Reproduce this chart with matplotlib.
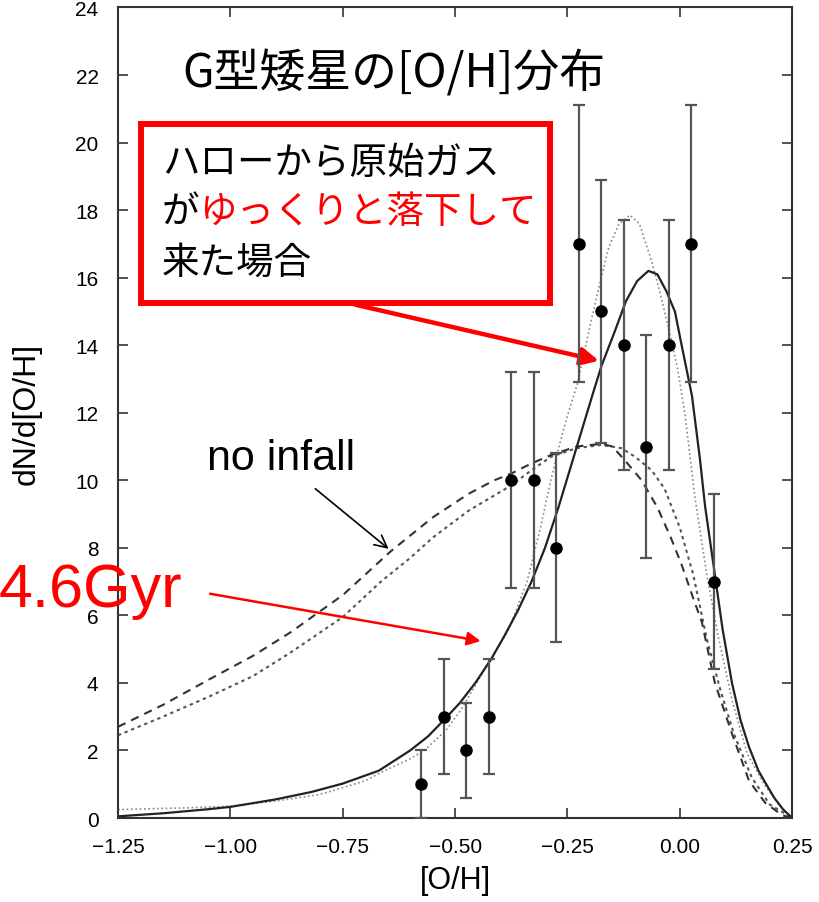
import matplotlib
matplotlib.use('Agg')
import matplotlib.pyplot as plt
import numpy as np
from matplotlib.patches import Rectangle

plt.rcParams['font.family'] = ['Liberation Sans', 'DejaVu Sans']
JP = ['Noto Sans CJK JP', 'DejaVu Sans']

# ---------------------------------------------------------------------------
# Data
# ---------------------------------------------------------------------------
oh_obs = [-0.575, -0.525, -0.475, -0.425, -0.375, -0.325, -0.275,
          -0.225, -0.175, -0.125, -0.075, -0.025, 0.025, 0.075]
n_obs = [1, 3, 2, 3, 10, 10, 8, 17, 15, 14, 11, 14, 17, 7]
n_err = [1.0, 1.7, 1.4, 1.7, 3.2, 3.2, 2.8, 4.1, 3.9, 3.7, 3.3, 3.7, 4.1, 2.6]

# model with slow infall (solid)
solid_x = [-1.25, -1.15, -1.05, -1.00, -0.90, -0.82, -0.75, -0.67, -0.60,
           -0.56, -0.525, -0.49, -0.455, -0.42, -0.39, -0.36, -0.33, -0.30,
           -0.27, -0.245, -0.22, -0.195, -0.174, -0.145, -0.12, -0.095,
           -0.07, -0.05, -0.03, -0.011, 0.004, 0.027, 0.045, 0.056, 0.078,
           0.095, 0.116, 0.135, 0.154, 0.175, 0.19, 0.21, 0.23, 0.25]
solid_y = [0.05, 0.14, 0.26, 0.33, 0.55, 0.77, 1.02, 1.40, 2.00,
           2.42, 2.90, 3.40, 4.00, 4.70, 5.40, 6.15, 7.00, 8.00,
           9.20, 10.3, 11.4, 12.5, 13.4, 14.4, 15.3, 15.9,
           16.2, 16.1, 15.6, 15.0, 14.0, 12.5, 10.6, 9.25, 7.2,
           5.6, 4.0, 2.9, 2.1, 1.4, 1.05, 0.6, 0.25, 0.0]

# fine dotted model
dot_x = [-1.25, -1.10, -1.00, -0.90, -0.80, -0.70, -0.665, -0.60, -0.569,
         -0.52, -0.487, -0.43, -0.38, -0.34, -0.31, -0.287, -0.265, -0.248,
         -0.227, -0.196, -0.175, -0.158, -0.135, -0.111, -0.09, -0.063,
         -0.045, -0.025, -0.005, 0.011, 0.033, 0.06, 0.085, 0.116, 0.15,
         0.19, 0.22, 0.25]
dot_y = [0.25, 0.30, 0.35, 0.50, 0.70, 1.10, 1.35, 1.75, 2.00,
         2.60, 3.20, 4.50, 5.60, 7.00, 8.60, 10.0, 11.2, 12.0,
         12.9, 14.8, 16.0, 16.9, 17.6, 17.85, 17.6, 16.5,
         15.6, 14.5, 13.3, 12.0, 9.55, 7.2, 5.4, 3.5, 1.9,
         0.95, 0.4, 0.0]

# no infall (long dashes)
dash_x = [-1.25, -1.15, -1.045, -0.95, -0.866, -0.75, -0.643, -0.55, -0.47,
          -0.413, -0.375, -0.33, -0.286, -0.23, -0.174, -0.15, -0.123,
          -0.085, -0.05, -0.02, 0.004, 0.03, 0.049, 0.078, 0.116, 0.154,
          0.19, 0.228, 0.25]
dash_y = [2.7, 3.35, 4.12, 4.8, 5.5, 6.6, 7.9, 8.9, 9.6,
          10.0, 10.2, 10.5, 10.75, 11.0, 11.08, 11.0, 10.6,
          10.0, 9.2, 8.3, 7.5, 6.5, 5.8, 4.0, 2.5, 1.1,
          0.45, 0.08, 0.0]

# no infall (short dashes)
sdash_x = [-1.25, -1.15, -1.045, -0.95, -0.866, -0.75, -0.665, -0.60, -0.55,
           -0.47, -0.413, -0.375, -0.33, -0.286, -0.23, -0.174, -0.13, -0.10,
           -0.063, -0.034, 0.0, 0.03, 0.06, 0.09, 0.12, 0.16, 0.20, 0.25]
sdash_y = [2.45, 3.0, 3.61, 4.2, 4.9, 5.95, 7.0, 7.7, 8.3,
           9.1, 9.55, 9.85, 10.3, 10.7, 10.95, 11.05, 10.95, 10.7,
           10.3, 9.75, 8.6, 7.2, 5.3, 3.8, 2.5, 1.2, 0.4, 0.0]

x_ticks = [-1.25, -1.00, -0.75, -0.50, -0.25, 0.00, 0.25]
y_ticks = list(range(0, 25, 2))

# ---------------------------------------------------------------------------
# Figure
# ---------------------------------------------------------------------------
fig = plt.figure(figsize=(8.2, 9.03), dpi=100)
ax = fig.add_axes([0.1439, 0.093, 0.8222, 0.8976])

ax.plot(sdash_x, sdash_y, color='#555555', lw=1.5, ls=(0, (1.6, 1.8)))
ax.plot(dash_x, dash_y, color='#333333', lw=1.5, ls=(0, (4, 3)))
ax.plot(dot_x, dot_y, color='#888888', lw=1.2, ls=(0, (1, 1.6)))
ax.plot(solid_x, solid_y, color='#222222', lw=1.6)

ax.errorbar(oh_obs, n_obs, yerr=n_err, fmt='o', color='black', ms=8,
            ecolor='#555555', elinewidth=1.6, capsize=4.5, capthick=1.6,
            zorder=5)

ax.set_xlim(-1.25, 0.25)
ax.set_ylim(0, 24)
ax.set_xticks(x_ticks)
ax.set_xticklabels(['\u22121.25', '\u22121.00', '\u22120.75', '\u22120.50',
                    '\u22120.25', '0.00', '0.25'])
ax.set_yticks(y_ticks)
ax.tick_params(direction='in', length=7.5, width=1.2, top=True, right=True,
               labelsize=15, pad=14, color='#333333')
for s in ax.spines.values():
    s.set_linewidth(1.5)
    s.set_color('#333333')

ax.set_xlabel('[O/H]', fontsize=22)
ax.set_ylabel('dN/d[O/H]', fontsize=23)
ax.xaxis.set_label_coords(0.5, -0.058)
ax.yaxis.set_label_coords(-0.113, 0.5)

# ---------------------------------------------------------------------------
# Annotations
# ---------------------------------------------------------------------------
ax.text(-1.107, 22.04, 'G型矮星の[O/H]分布', fontsize=33, family=JP,
        ha='left', va='center')

ax.add_patch(Rectangle((-1.1987, 15.26), 0.9092, 5.30, fill=False,
                       edgecolor='#ff0000', lw=4.3, clip_on=False, zorder=6))
ax.text(-1.152, 19.41, 'ハローから原始ガス', fontsize=27, family=JP,
        ha='left', va='center')
ax.text(-1.152, 17.96, 'が', fontsize=27, family=JP, ha='left', va='center')
ax.annotate('ゆっくりと落下して', xy=(-1.152, 17.96), xytext=(27, 0),
            textcoords='offset points', fontsize=27, family=JP,
            color='#ff0000', ha='left', va='center')
ax.text(-1.152, 16.47, '来た場合', fontsize=27, family=JP,
        ha='left', va='center')

ax.annotate('', xy=(-0.180, 13.54), xytext=(-0.722, 15.2),
            arrowprops=dict(arrowstyle='-|>', color='#ff0000', lw=3.2,
                            mutation_scale=26, shrinkA=0, shrinkB=0),
            annotation_clip=False)

ax.text(-1.052, 10.34, 'no infall', fontsize=31, ha='left', va='baseline')
ax.annotate('', xy=(-0.648, 7.97), xytext=(-0.811, 9.75),
            arrowprops=dict(arrowstyle='->', color='black', lw=1.2,
                            mutation_scale=22, shrinkA=0, shrinkB=0),
            annotation_clip=False)

ax.text(-1.516, 6.28, '4.6Gyr', fontsize=44, color='#ff0000',
        ha='left', va='baseline', clip_on=False)
ax.annotate('', xy=(-0.443, 5.24), xytext=(-1.045, 6.64),
            arrowprops=dict(arrowstyle='-|>', color='#ff0000', lw=1.8,
                            mutation_scale=20, shrinkA=0, shrinkB=0),
            annotation_clip=False)

fig.savefig('out.png', dpi=100, facecolor='white')
